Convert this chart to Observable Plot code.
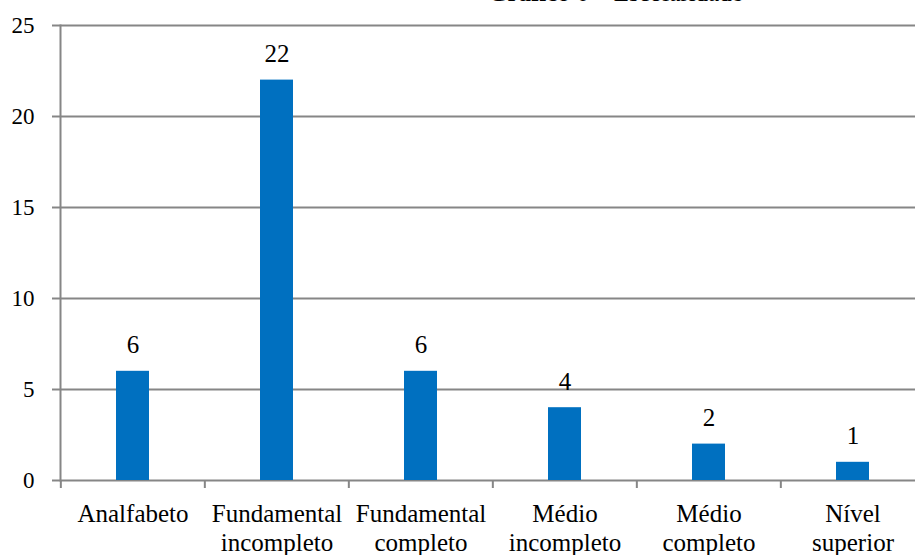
<!DOCTYPE html>
<html>
<head>
<meta charset="utf-8">
<script src="https://cdn.jsdelivr.net/npm/d3@7"></script>
<script src="https://cdn.jsdelivr.net/npm/@observablehq/plot@0.6"></script>
<style>
  html, body { margin: 0; padding: 0; background: #fff; font-family: serif; }
  #wrap { position: relative; width: 915px; height: 555px; overflow: hidden; }
  #title {
    position: absolute; left: 488px; top: -20px;
    font-family: serif;
    font-size: 25px; color: #000; white-space: nowrap; line-height: 25px;
  }
  #chart svg { display: block; }
  #chart svg text { font-family: serif !important; }
</style>
</head>
<body>
<div id="wrap">
  <div id="title"><b>Gráfico 6</b> – Escolaridade</div>
  <div id="chart"></div>
</div>
<script>
// Escolaridade dos entrevistados
const categories = ["Analfabeto", "Fundamental\nincompleto", "Fundamental\ncompleto", "Médio\nincompleto", "Médio\ncompleto", "Nível\nsuperior"];
const counts = [6, 22, 6, 4, 2, 1];
const yTicks = [0, 5, 10, 15, 20, 25];

const data = categories.map((c, i) => ({category: c, count: counts[i]}));

const W = 915, H = 555;
const mLeft = 60, mRight = -11, mTop = 25, mBottom = 75;
const step = (W - mLeft - mRight) / categories.length;

const serif = "serif";
const grid = "#868686";

const chart = Plot.plot({
  width: W,
  height: H,
  marginLeft: mLeft,
  marginRight: mRight,
  marginTop: mTop,
  marginBottom: mBottom,
  style: {fontFamily: serif, color: "#000", background: "#fff", overflow: "hidden"},
  x: {domain: categories, paddingInner: 0.77, paddingOuter: 0.385},
  y: {domain: [0, 25]},
  marks: [
    Plot.ruleY(yTicks, {stroke: grid, strokeWidth: 2}),
    Plot.frame({anchor: "left", stroke: grid, strokeWidth: 2, strokeOpacity: 1}),
    // category boundary ticks under the baseline
    Plot.ruleX(categories, {x: d => d, dx: -step / 2, y1: 0, y2: 0, insetBottom: -8, stroke: grid, strokeWidth: 2}),
    Plot.barY(data, {x: "category", y: "count", fill: "#0070C0"}),
    Plot.text(data, {x: "category", y: "count", text: d => String(d.count), dy: -18, lineAnchor: "bottom", fontSize: 25, fontFamily: serif, fill: "#000"}),
    Plot.axisY({ticks: yTicks, tickSize: 8, tickPadding: 18, stroke: grid, strokeWidth: 2, fontSize: 23, fontFamily: serif, fill: "#000", label: null, tickFormat: d => String(d)}),
    Plot.axisX({tickSize: 0, tickPadding: 21, fontSize: 25, fontFamily: serif, lineHeight: 1.16, fill: "#000", label: null})
  ]
});

document.getElementById("chart").appendChild(chart);
</script>
</body>
</html>
